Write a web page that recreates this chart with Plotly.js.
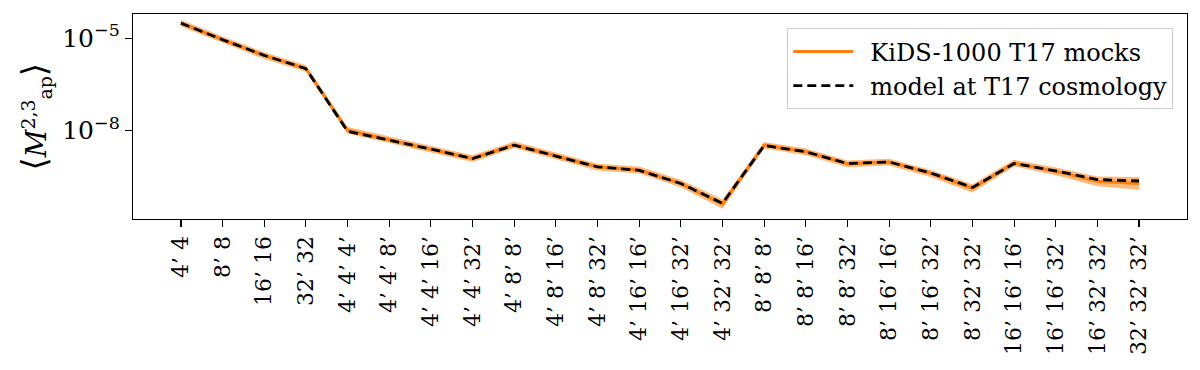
<!DOCTYPE html>
<html>
<head>
<meta charset="utf-8">
<script src="https://cdn.plot.ly/plotly-3.0.1.min.js"></script>
<style>body{margin:0;background:#fff;} #chart{width:1200px;height:370px;}</style>
</head>
<body>
<div id="chart"></div>
<script>
const categories = ["4’ 4", "8’ 8", "16’ 16", "32’ 32", "4’ 4’ 4’", "4’ 4’ 8’", "4’ 4’ 16’", "4’ 4’ 32’",
  "4’ 8’ 8’", "4’ 8’ 16’", "4’ 8’ 32’", "4’ 16’ 16’", "4’ 16’ 32’", "4’ 32’ 32’", "8’ 8’ 8’", "8’ 8’ 16’",
  "8’ 8’ 32’", "8’ 16’ 16’", "8’ 16’ 32’", "8’ 32’ 32’", "16’ 16’ 16’", "16’ 16’ 32’", "16’ 32’ 32’", "32’ 32’ 32’"];

const modelT17 = [3.09e-5, 8.9e-6, 2.75e-6, 1.02e-6, 9.3e-9, 4.8e-9, 2.45e-9, 1.2e-9, 3.3e-9, 1.45e-9, 6.5e-10, 5.0e-10,
  1.86e-10, 4.2e-11, 3.2e-9, 2.0e-9, 8.3e-10, 9.3e-10, 4.1e-10, 1.38e-10, 8.3e-10, 4.8e-10, 2.5e-10, 2.24e-10];

const mocksMean = [3.1e-5, 8.9e-6, 2.75e-6, 1.03e-6, 1.0e-8, 5.0e-9, 2.5e-9, 1.2e-9, 3.4e-9, 1.45e-9, 6.4e-10, 5.1e-10,
  1.85e-10, 4.0e-11, 3.3e-9, 2.0e-9, 8.1e-10, 9.3e-10, 4.0e-10, 1.3e-10, 8.6e-10, 4.6e-10, 2.2e-10, 1.85e-10];

const mocksLow = [2.4e-5, 6.9e-6, 2.1e-6, 0.8e-6, 7.8e-9, 3.9e-9, 1.95e-9, 0.93e-9, 2.65e-9, 1.12e-9, 4.9e-10, 3.9e-10,
  1.4e-10, 2.8e-11, 2.55e-9, 1.55e-9, 6.3e-10, 7.2e-10, 3.05e-10, 0.95e-10, 6.7e-10, 3.45e-10, 1.5e-10, 1.16e-10];

const mocksHigh = [3.95e-5, 1.14e-5, 3.5e-6, 1.32e-6, 1.28e-8, 6.4e-9, 3.2e-9, 1.55e-9, 4.3e-9, 1.85e-9, 8.2e-10, 6.6e-10,
  2.45e-10, 5.6e-11, 4.2e-9, 2.55e-9, 1.04e-9, 1.18e-9, 5.1e-10, 1.75e-10, 1.1e-9, 6.2e-10, 3.15e-10, 3.0e-10];

const yTickVals = [1e-5, 1e-8];
const yTickText = ["10<sup>−5</sup>", "10<sup>−8</sup>"];

const seriesNames = ["KiDS-1000 T17 mocks", "model at T17 cosmology"];

const FONT = "DejaVu Serif";
const orange = "#ff7f0e";

const traces = [
  {x: categories, y: mocksLow, type: "scatter", mode: "lines", line: {width: 0, color: orange},
   showlegend: false, hoverinfo: "skip"},
  {x: categories, y: mocksHigh, type: "scatter", mode: "lines", line: {width: 0, color: orange},
   fill: "tonexty", fillcolor: "rgba(255,127,14,0.55)", showlegend: false, hoverinfo: "skip"},
  {x: categories, y: mocksMean, type: "scatter", mode: "lines", name: "\u2002" + seriesNames[0],
   line: {color: orange, width: 3}},
  {x: categories, y: modelT17, type: "scatter", mode: "lines", name: "\u2002" + seriesNames[1],
   line: {color: "#000000", width: 2.8, dash: "9px,5px"}}
];

const layout = {
  width: 1200, height: 370,
  margin: {l: 133, r: 13, t: 14, b: 151, pad: 0},
  paper_bgcolor: "#ffffff", plot_bgcolor: "#ffffff",
  font: {family: FONT, size: 24, color: "#000"},
  showlegend: true,
  xaxis: {
    type: "category", range: [-1.15, 24.15],
    showline: true, mirror: true, linecolor: "#000", linewidth: 1.2,
    showgrid: false, zeroline: false,
    ticks: "outside", ticklen: 7, tickwidth: 1.2, tickcolor: "#000",
    tickangle: -90, tickfont: {family: FONT, size: 22, color: "#000"},
    automargin: false
  },
  yaxis: {
    type: "log", range: [-10.886, -4.214],
    showline: true, mirror: true, linecolor: "#000", linewidth: 1.2,
    showgrid: false, zeroline: false,
    ticks: "outside", ticklen: 7, tickwidth: 1.2, tickcolor: "#000",
    tickvals: yTickVals, ticktext: yTickText,
    tickfont: {family: FONT, size: 25, color: "#000"},
    automargin: false
  },
  legend: {
    x: 0.987, y: 0.93, xanchor: "right", yanchor: "top",
    bgcolor: "rgba(255,255,255,0.85)", bordercolor: "#cccccc", borderwidth: 1,
    font: {family: FONT, size: 24, color: "#000"},
    itemwidth: 60, tracegroupgap: 0, traceorder: "normal"
  },
  annotations: [{
    xref: "paper", yref: "paper", x: -0.093, y: 0.5,
    text: "<span style='font-size:34px'>⟨</span><i>M</i><sup>2,3</sup><sub>ap</sub><span style='font-size:34px'>⟩</span>",
    textangle: -90, showarrow: false, xanchor: "center", yanchor: "middle",
    font: {family: FONT, size: 27, color: "#000"}
  }]
};

Plotly.newPlot("chart", traces, layout, {displayModeBar: false, staticPlot: true});
</script>
</body>
</html>
